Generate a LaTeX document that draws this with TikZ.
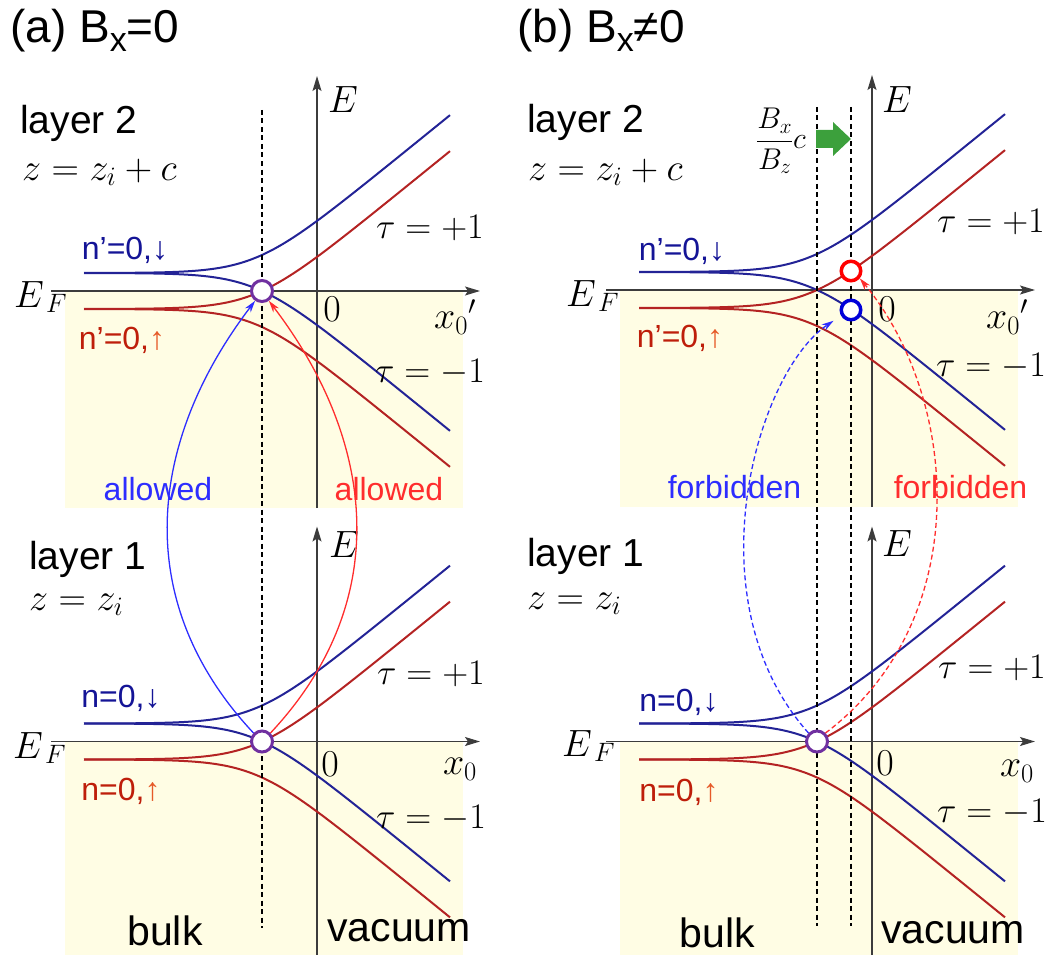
\RequirePackage{fix-cm}
\documentclass[tikz,border=0pt]{standalone}
\usepackage{fontspec}
\setsansfont{Liberation Sans}
\usetikzlibrary{arrows.meta}

\definecolor{bandblue}{RGB}{35,35,150}
\definecolor{bandred}{RGB}{180,35,35}
\definecolor{txtblue}{RGB}{20,20,150}
\definecolor{txtred}{RGB}{190,30,10}
\definecolor{txtorange}{RGB}{230,90,40}
\definecolor{arcblue}{RGB}{45,45,255}
\definecolor{arcred}{RGB}{255,45,45}
\definecolor{dotpurple}{RGB}{112,48,160}
\definecolor{bulkyellow}{RGB}{255,253,228}
\definecolor{shiftgreen}{RGB}{60,160,60}
\definecolor{axisgray}{RGB}{60,60,60}

\tikzset{
  axisline/.style={draw=axisgray,line width=1.3pt,-{Stealth[length=15pt,width=9pt,inset=3pt]}},
  bandline/.style={line width=2pt,domain=-233:133,samples=90,smooth},
  guide/.style={line width=1.2pt,dash pattern=on 5pt off 3.5pt},
  crossing/.style={circle,draw=dotpurple,fill=white,line width=3pt,minimum size=21pt,inner sep=0pt},
  redstate/.style={circle,draw=red,fill=white,line width=3.5pt,minimum size=19.5pt,inner sep=0pt},
  bluestate/.style={circle,draw=blue!85!black,fill=white,line width=3.5pt,minimum size=19.5pt,inner sep=0pt},
  hop/.style={line width=1.3pt,-{Stealth[length=12pt,width=7pt]}},
  nohop/.style={hop,dash pattern=on 5pt off 3pt},
  title/.style={font=\sffamily\fontsize{46}{50}\selectfont,anchor=base west,inner sep=0pt},
  layertext/.style={font=\sffamily\fontsize{39}{42}\selectfont,anchor=base west,inner sep=0pt},
  leveltext/.style={font=\sffamily\fontsize{32}{35}\selectfont,inner sep=0pt},
  regiontext/.style={font=\sffamily\fontsize{41}{44}\selectfont,inner sep=0pt},
  mathtext/.style={font=\fontsize{38}{40}\selectfont,inner sep=0pt},
  tautext/.style={font=\fontsize{36}{38}\selectfont,inner sep=0pt},
}

\begin{document}
\begin{tikzpicture}[x=1pt,y=1pt,
  declare function={hb(\u)=21.9*ln(1+exp((\u+61.6)/27));}]

\useasboundingbox (0,0) rectangle (1052,-955);

% the four band pictures
\foreach \ox/\oy/\lo in {317/291/217, 872/290/217, 317/741.5/214, 872/741.5/214}{
  \begin{scope}[shift={(\ox,-\oy)}]
    \fill[bulkyellow] (-252,0) rectangle (146,-\lo);
    \draw[axisline] (-266,0) -- (163,0);
    \draw[axisline] (0,-\lo) -- (0,215);
    \draw[bandline,bandblue] plot (\x,{18+hb(\x)});
    \draw[bandline,bandblue] plot (\x,{18-hb(\x)});
    \draw[bandline,bandred] plot (\x,{-18+hb(\x)});
    \draw[bandline,bandred] plot (\x,{-18-hb(\x)});
  \end{scope}
}

\draw[guide] (262,-110) -- (262,-928);
\draw[guide] (817,-107) -- (817,-926);
\draw[guide] (851,-107) -- (851,-926);

% titles
\node[title] (ta) at (10,-43) {(a) B\raisebox{-9pt}{\fontsize{34}{34}\selectfont x}=0};
\node[title] (tb) at (517,-43) {(b) B\raisebox{-9pt}{\fontsize{34}{34}\selectfont x}≠0};

% panel (a)
\node[layertext] (la2) at (20,-134) {layer 2};
\node[mathtext,anchor=base west] (za2) at (22,-180) {$z=z_i+c$};
\node[mathtext] (Ea2) at (343,-100) {$E$};
\node[mathtext,anchor=base west] (Fa2) at (14,-307) {$E_{\,F}$};
\node[mathtext] (oa2) at (332,-309) {$0$};
\node[mathtext] (xa2) at (455,-317) {$x_0{}'$};
\node[tautext] (pa2) at (430,-228) {$\tau=+1$};
\node[tautext] (ma2) at (430,-372) {$\tau=-1$};
\node[leveltext,text=txtblue] (da2) at (125,-250) {n’=0,↓};
\node[leveltext,text=txtred] (ua2) at (122,-340) {n’=0,\textcolor{txtorange}{↑}};
\node[leveltext,text=arcblue] (wa1) at (158,-489) {allowed};
\node[leveltext,text=arcred] (wa2) at (389,-489) {allowed};

\node[layertext] (la1) at (29,-569) {layer 1};
\node[mathtext,anchor=base west] (za1) at (29,-610) {$z=z_i$};
\node[mathtext] (Ea1) at (344,-545) {$E$};
\node[mathtext,anchor=base west] (Fa1) at (13,-758) {$E_{\,F}$};
\node[mathtext] (oa1) at (330,-764) {$0$};
\node[mathtext] (xa1) at (460,-769) {$x_0$};
\node[tautext] (pa1) at (431,-674) {$\tau=+1$};
\node[tautext] (ma1) at (431,-818) {$\tau=-1$};
\node[leveltext,text=txtblue] (da1) at (121,-698) {n=0,↓};
\node[leveltext,text=txtred] (ua1) at (121,-791) {n=0,\textcolor{txtorange}{↑}};
\node[regiontext] (ka) at (165,-931) {bulk};
\node[regiontext] (va) at (399,-931) {vacuum};

% panel (b)
\node[layertext] (lb2) at (527,-133) {layer 2};
\node[mathtext,anchor=base west] (zb2) at (528,-180) {$z=z_i+c$};
\node[font=\fontsize{30}{32}\selectfont,inner sep=0pt] (sh) at (781,-141) {$\displaystyle\frac{B_x}{B_z}c$};
\node[mathtext] (Eb2) at (897,-100) {$E$};
\node[mathtext,anchor=base west] (Fb2) at (566,-306) {$E_{\,F}$};
\node[mathtext] (ob2) at (887,-309) {$0$};
\node[mathtext] (xb2) at (1007,-317) {$x_0{}'$};
\node[tautext] (pb2) at (991,-222) {$\tau=+1$};
\node[tautext] (mb2) at (991,-366) {$\tau=-1$};
\node[leveltext,text=txtblue] (db2) at (682,-251) {n’=0,↓};
\node[leveltext,text=txtred] (ub2) at (680,-338) {n’=0,\textcolor{txtorange}{↑}};
\node[leveltext,text=arcblue] (wb1) at (734.5,-487.5) {forbidden};
\node[leveltext,text=arcred] (wb2) at (960.5,-487.5) {forbidden};

\node[layertext] (lb1) at (527,-566) {layer 1};
\node[mathtext,anchor=base west] (zb1) at (527,-609) {$z=z_i$};
\node[mathtext] (Eb1) at (897,-544) {$E$};
\node[mathtext,anchor=base west] (Fb1) at (562,-756) {$E_{\,F}$};
\node[mathtext] (ob1) at (885,-763) {$0$};
\node[mathtext] (xb1) at (1017,-771) {$x_0$};
\node[tautext] (pb1) at (992,-668) {$\tau=+1$};
\node[tautext] (mb1) at (992,-812) {$\tau=-1$};
\node[leveltext,text=txtblue] (db1) at (679,-702) {n=0,↓};
\node[leveltext,text=txtred] (ub1) at (679,-792) {n=0,\textcolor{txtorange}{↑}};
\node[regiontext] (kb) at (717.5,-933) {bulk};
\node[regiontext] (vb) at (953,-933) {vacuum};

% shift arrow
\fill[shiftgreen] (816,-130) -- (833,-130) -- (833,-122) -- (851,-139)
  -- (833,-156) -- (833,-148) -- (816,-148) -- cycle;

% crossing points
\node[crossing] (a2) at (262,-291) {};
\node[crossing] (a1) at (262,-741.5) {};
\node[crossing] (b1) at (817,-741.5) {};
\node[redstate] (b2r) at (851,-271) {};
\node[bluestate] (b2b) at (851,-310) {};

% transitions
\draw[hop,arcblue] (a1.135) .. controls (129,-600) and (149,-440) .. (a2.235);
\draw[hop,arcred] (a1.45) .. controls (395,-600) and (375,-440) .. (a2.-55);
\draw[nohop,arcblue,shorten >=9pt] (b1.135) .. controls (690,-600) and (757,-372) .. (b2b.210);
\draw[nohop,arcred] (b1.45) .. controls (975,-620) and (960,-400) .. (b2r.-40);

\end{tikzpicture}
\end{document}
